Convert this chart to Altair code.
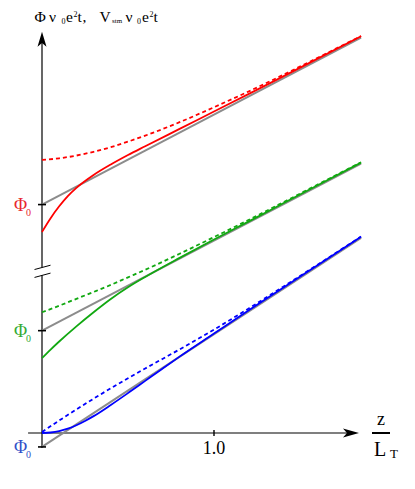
import altair as alt
import pandas as pd

# ---------------- data (z in units of L_T, y in arbitrary units; z-axis at y = 0) ----------------
z_red_solid = [0, 0.05, 0.1, 0.15, 0.2, 0.3, 0.4, 0.5, 0.6, 0.8, 1.0, 1.2, 1.4, 1.6, 1.855]
red_solid = [1.169, 1.249, 1.318, 1.377, 1.425, 1.500, 1.561, 1.616, 1.667, 1.768, 1.869, 1.970, 2.072, 2.175, 2.307]

z_red_dashed = [0, 0.1, 0.2, 0.3, 0.4, 0.5, 0.6, 0.8, 1.0, 1.2, 1.4, 1.6, 1.855]
red_dashed = [1.588, 1.597, 1.613, 1.635, 1.662, 1.694, 1.729, 1.807, 1.894, 1.985, 2.081, 2.180, 2.308]

z_green_solid = [0, 0.05, 0.1, 0.2, 0.3, 0.4, 0.5, 0.6, 0.8, 1.0, 1.2, 1.4, 1.6, 1.855]
green_solid = [0.435, 0.485, 0.532, 0.620, 0.702, 0.779, 0.847, 0.907, 1.018, 1.125, 1.229, 1.334, 1.439, 1.572]

z_green_dashed = [0, 0.1, 0.2, 0.3, 0.4, 0.5, 0.6, 0.8, 1.0, 1.2, 1.4, 1.6, 1.855]
green_dashed = [0.702, 0.740, 0.780, 0.820, 0.861, 0.905, 0.949, 1.042, 1.139, 1.238, 1.340, 1.443, 1.574]

z_blue_solid = [0, 0.05, 0.1, 0.15, 0.2, 0.25, 0.3, 0.4, 0.5, 0.6, 0.7, 0.8, 1.0, 1.2, 1.4, 1.6, 1.855]
blue_solid = [0.000, 0.003, 0.011, 0.025, 0.045, 0.070, 0.098, 0.163, 0.232, 0.303, 0.374, 0.444, 0.578, 0.712, 0.843, 0.974, 1.141]

z_blue_dashed = [0, 0.1, 0.2, 0.3, 0.4, 0.5, 0.6, 0.7, 0.8, 1.0, 1.2, 1.4, 1.6, 1.855]
blue_dashed = [0.006, 0.0725, 0.137, 0.1995, 0.260, 0.3185, 0.375, 0.4305, 0.486, 0.601, 0.723, 0.849, 0.977, 1.142]

# straight asymptotes (gray), start value = Phi_0 of each group
z_asym = [0, 1.855]
red_asym = [1.328, 2.299]
green_asym = [0.595, 1.566]
blue_asym = [-0.081, 1.134]

series_names = ["red", "green", "blue"]
series_colors = ["#ff0000", "#11a811", "#0000ff"]
label_colors = ["#e8262e", "#33aa33", "#3050c8"]

x_tick_values = [1.0]
x_tick_labels = ["1.0"]

# axis geometry (data units)
x_axis_start, x_axis_end, x_arrow_tip = -0.081, 1.80, 1.843
y_axis_bottom, y_axis_top, y_arrow_tip = -0.087, 2.30, 2.333
break_low, break_high = 0.917, 0.963

# ---------------- table ----------------
rows = []
def add(series, style, zs, ys):
    for z, y in zip(zs, ys):
        rows.append({"series": series, "style": style, "z": z, "y": y})

add("red", "solid", z_red_solid, red_solid)
add("red", "dashed", z_red_dashed, red_dashed)
add("red", "asym", z_asym, red_asym)
add("green", "solid", z_green_solid, green_solid)
add("green", "dashed", z_green_dashed, green_dashed)
add("green", "asym", z_asym, green_asym)
add("blue", "solid", z_blue_solid, blue_solid)
add("blue", "dashed", z_blue_dashed, blue_dashed)
add("blue", "asym", z_asym, blue_asym)
df = pd.DataFrame(rows)

# ---------------- layout ----------------
W, H = 398, 468
PX_PER_UNIT = 172.0
ORIGIN_X, ORIGIN_Y = 42, 433   # page pixel of (z=0, y=0)
xs = alt.Scale(domain=[(8 - ORIGIN_X) / PX_PER_UNIT, (8 + W - ORIGIN_X) / PX_PER_UNIT], nice=False, zero=False)
ys = alt.Scale(domain=[(ORIGIN_Y - 8 - H) / PX_PER_UNIT, (ORIGIN_Y - 8) / PX_PER_UNIT], nice=False, zero=False)
SERIF = "'Liberation Serif', 'DejaVu Serif', serif"

def X(v):
    return alt.XDatum(v, scale=xs, axis=None, type="quantitative")

def Y(v):
    return alt.YDatum(v, scale=ys, axis=None, type="quantitative")

one = alt.Data(values=[{"k": 0}])
color_scale = alt.Scale(domain=series_names, range=series_colors)

base = alt.Chart(df).encode(
    x=alt.X("z:Q", scale=xs, axis=None),
    y=alt.Y("y:Q", scale=ys, axis=None),
)

asym = base.transform_filter(alt.datum.style == "asym").mark_line(
    color="#8c8c8c", strokeWidth=2
).encode(detail="series:N")

solid = base.transform_filter(alt.datum.style == "solid").mark_line(
    strokeWidth=1.8, interpolate="monotone"
).encode(color=alt.Color("series:N", scale=color_scale, legend=None))

dashed = base.transform_filter(alt.datum.style == "dashed").mark_line(
    strokeWidth=1.8, interpolate="monotone", strokeDash=[4, 3]
).encode(color=alt.Color("series:N", scale=color_scale, legend=None))

# axes
x_axis = alt.Chart(one).mark_rule(color="black", strokeWidth=1.2).encode(
    x=X(x_axis_start), x2=alt.X2Datum(x_axis_end), y=Y(0)
)
y_axis_low = alt.Chart(one).mark_rule(color="black", strokeWidth=1.2).encode(
    x=X(0), y=Y(y_axis_bottom), y2=alt.Y2Datum(break_low)
)
y_axis_high = alt.Chart(one).mark_rule(color="black", strokeWidth=1.2).encode(
    x=X(0), y=Y(break_high), y2=alt.Y2Datum(y_axis_top)
)

def symbol(path, size, xv, yv, filled, width=1.2):
    if filled:
        m = alt.Chart(one).mark_point(shape=path, size=size, filled=True, color="black", opacity=1, strokeWidth=0)
    else:
        m = alt.Chart(one).mark_point(shape=path, size=size, filled=False, color="black", opacity=1, strokeWidth=width)
    return m.encode(x=X(xv), y=Y(yv))

up_arrow = symbol("M0,0 L0.6,2 L0,1.5 L-0.6,2 Z", 225, 0, y_arrow_tip, True)
right_arrow = symbol("M0,0 L-2,-0.55 L-1.5,0 L-2,0.55 Z", 256, x_arrow_tip, 0, True)
slash1 = symbol("M-1,0.27 L1,-0.27", 256, 0.003, break_low, False, 1.0)
slash2 = symbol("M-1,0.27 L1,-0.27", 256, 0.003, break_high, False, 1.0)

ticks = [symbol("M-1,0 L1,0", 64, 0, v[0], False, 1.6) for v in (red_asym, green_asym, blue_asym)]
ticks += [symbol("M0,-1 L0,1", 36, t, 0, False, 1.4) for t in x_tick_values]

# Phi_0 labels on the y axis
phi_labels = []
for vals, col in zip((red_asym, green_asym, blue_asym), label_colors):
    phi_labels.append(alt.Chart(one).mark_text(
        text="Φ", font=SERIF, fontSize=18, color=col, align="center", baseline="middle", dy=1
    ).encode(x=alt.value(20.5 - 8), y=Y(vals[0])))
    phi_labels.append(alt.Chart(one).mark_text(
        text="0", font=SERIF, fontSize=10, color=col, align="left", baseline="middle", dy=8
    ).encode(x=alt.value(26 - 8), y=Y(vals[0])))

# x tick labels
x_labels = [alt.Chart(one).mark_text(
    text=lab, font=SERIF, fontSize=18, color="black", align="center", baseline="middle", dy=16
).encode(x=X(t), y=Y(0)) for t, lab in zip(x_tick_values, x_tick_labels)]

def txt(s, px, py, size, align="left", baseline="alphabetic"):
    return alt.Chart(one).mark_text(
        text=s, font=SERIF, fontSize=size, color="black", align=align, baseline=baseline
    ).encode(x=alt.value(px - 8), y=alt.value(py - 8))

# y-axis title: "Φ ν0 e²t, Vstm ν0 e²t"
TB = 22  # title baseline (page px)
title_parts = [
    txt("Φ", 34.5, TB, 15.5), txt("ν", 49, TB, 15.5), txt("0", 61.5, TB + 1.5, 8),
    txt("e", 66, TB, 15.5), txt("2", 73.5, TB - 5, 8), txt("t", 77.5, TB, 15.5), txt(",", 82.5, TB, 15.5),
    txt("V", 99.5, TB, 15.5), txt("stm", 112, TB + 1, 7),
    txt("ν", 125.5, TB, 15.5), txt("0", 137, TB + 1.5, 8),
    txt("e", 142, TB, 15.5), txt("2", 149.5, TB - 5, 8), txt("t", 153.5, TB, 15.5),
]

# x-axis title: z / L_T
frac_bar = alt.Chart(one).mark_rule(color="black", strokeWidth=2).encode(
    x=alt.value(372 - 8), x2=alt.value(390 - 8), y=alt.value(433 - 8)
)
x_title = [
    txt("z", 381, 420, 18, align="center", baseline="middle"),
    txt("L", 380, 450, 20, align="center", baseline="middle"),
    txt("T", 394, 454, 13, align="center", baseline="middle"),
    frac_bar,
]

chart = alt.layer(
    x_axis, y_axis_low, y_axis_high, slash1, slash2,
    asym, solid, dashed,
    up_arrow, right_arrow, *ticks, *phi_labels, *x_labels, *title_parts, *x_title,
).properties(
    width=W, height=H, padding=0,
    autosize=alt.AutoSizeParams(type="none"),
).configure_view(stroke=None)

chart.save("out.html", embed_options={"renderer": "svg", "actions": False})
